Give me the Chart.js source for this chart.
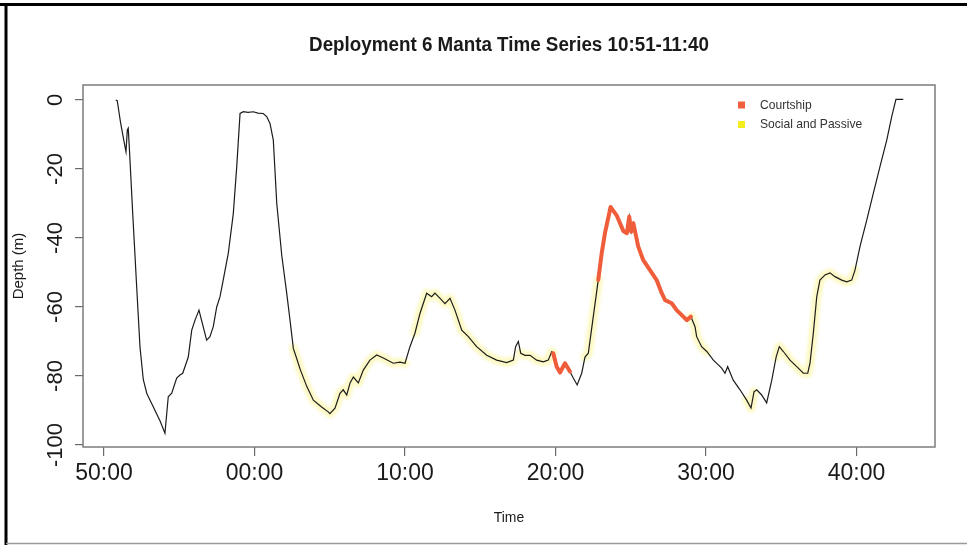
<!DOCTYPE html>
<html>
<head>
<meta charset="utf-8">
<script src="https://cdn.jsdelivr.net/npm/chart.js@4.4.1/dist/chart.umd.min.js"></script>
<style>
  html, body { margin: 0; padding: 0; background: #fff; }
  #wrap { position: relative; width: 967px; height: 545px; }
</style>
</head>
<body>
<div id="wrap"><canvas id="chart"></canvas></div>
<script>
// Deployment 6 - depth trace, minutes after 10:50
const times = [
    0.78, 0.88, 1.11, 1.33, 1.46, 1.55, 1.61, 1.68, 1.91, 2.17,
    2.39, 2.61, 2.84, 3.06, 3.28, 3.50, 3.72, 4.05, 4.27, 4.50,
    4.83, 5.05, 5.23, 5.38, 5.60, 5.83, 6.05, 6.31, 6.53, 6.82,
    7.04, 7.26, 7.49, 7.71, 7.93, 8.26, 8.59, 8.82, 9.04, 9.26,
    9.57, 9.92, 10.23, 10.58, 10.81, 11.03, 11.25, 11.48, 11.81, 12.14,
    12.36, 12.58, 12.81, 13.03, 13.47, 13.91, 14.46, 14.90, 15.01, 15.35,
    15.68, 15.90, 16.13, 16.35, 16.57, 16.90, 17.23, 17.67, 18.12, 18.56,
    19.22, 19.67, 20.00, 20.33, 20.66, 21.00, 21.44, 21.77, 21.99, 22.33,
    22.66, 22.99, 23.32, 23.77, 24.21, 24.76, 25.43, 26.09, 26.76, 27.20,
    27.35, 27.53, 27.69, 27.97, 28.31, 28.75, 29.19, 29.52, 29.75, 29.85,
    30.08, 30.30, 30.63, 30.96, 31.18, 31.44, 31.74, 31.96, 32.18, 32.51,
    32.84, 33.07, 33.29, 33.66, 34.07, 34.51, 34.74, 34.90, 35.03, 35.17,
    35.50, 35.83, 36.28, 36.72, 37.06, 37.28, 37.72, 38.05, 38.49, 38.72,
    39.00, 39.27, 39.38, 39.71, 40.05, 40.49, 41.04, 41.26, 41.44, 41.81,
    42.26, 42.70, 42.99, 43.19, 43.37, 43.70, 44.03, 44.37, 44.66, 44.87,
    45.14, 45.58, 46.03, 46.47, 46.76, 46.91, 47.13, 47.36, 47.57, 47.91,
    48.24, 48.57, 49.02, 49.35, 49.68, 49.90, 50.23, 50.68, 51.12, 51.56,
    52.01, 52.34, 52.62, 53.11
];

const depths = [
    0, -0.2, -6.8, -12, -15, -8.7, -8.2, -13.5, -33, -54,
    -71.5, -81, -85, -87, -89, -91, -93, -96.6, -86, -85,
    -80.6, -79.7, -79.2, -77.3, -74.5, -66.7, -63.8, -60.9, -64.7, -69.6,
    -68.6, -65.7, -60, -57, -52, -44.4, -33, -19.3, -3.9, -3.4,
    -3.6, -3.4, -3.8, -3.9, -4.8, -6.8, -11.6, -30, -45, -56,
    -63.8, -72, -75, -78, -83, -87, -89, -90.4, -90.9, -89.3,
    -85, -84, -85.5, -82, -80.3, -82, -78.3, -75.4, -73.9, -74.8,
    -76.3, -76, -76.3, -71.5, -67.6, -61.8, -56, -57, -56, -57.5,
    -59, -57.5, -60.9, -66.7, -68.6, -71.5, -74, -75.4, -76.1, -75.4,
    -71.5, -70, -73.4, -74, -74, -75.4, -75.9, -75.4, -73, -73.4,
    -77.3, -79, -76.3, -78.7, -80.6, -82.6, -79.2, -74.5, -73.4, -62.8,
    -52.2, -44.4, -38.5, -31, -33.5, -38, -38.6, -33.8, -38.2, -35.7,
    -42.5, -46.4, -49.3, -52.2, -56, -58, -58.9, -60.9, -62.8, -63.8,
    -62.8, -65.7, -68.6, -71.5, -72.9, -75.4, -77.7, -79.2, -77.3, -81.2,
    -84, -87, -89.3, -84.6, -84, -85.5, -87.8, -81.2, -74.5, -71.5,
    -72.9, -75.4, -77.3, -79.2, -79.2, -76.3, -67.6, -57, -52.2, -50.7,
    -50.1, -51.2, -52.2, -52.7, -52.2, -49.3, -42.5, -34.8, -27, -19.3,
    -11.6, -4.8, 0.2, 0.2
];

// behaviour windows, [start, end] in minutes
const courtshipWindows = [[29.85, 30.96], [32.84, 39.00]];
const socialWindows = [[12.58, 20.00], [20.66, 27.20], [27.69, 29.85], [31.96, 32.84],
    [39.00, 40.05], [42.70, 43.19], [44.66, 49.90]];

const xTickValues = [0, 10, 20, 30, 40, 50];
const xTickLabels = ['50:00', '00:00', '10:00', '20:00', '30:00', '40:00'];
const yTickValues = [0, -20, -40, -60, -80, -100];

const legendItems = [
    { label: 'Courtship', color: '#f0603e' },
    { label: 'Social and Passive', color: '#f4ef1c' }
];

const FONT = "'Liberation Sans', Arial, Helvetica, sans-serif";

function inWindows(t, windows) {
    return windows.some(w => t >= w[0] - 1e-9 && t <= w[1] + 1e-9);
}

const allPoints = times.map((t, i) => ({ x: t, y: depths[i] }));
const courtshipPoints = times.map((t, i) => ({ x: t, y: inWindows(t, courtshipWindows) ? depths[i] : null }));
const socialPoints = times.map((t, i) => ({ x: t, y: inWindows(t, socialWindows) ? depths[i] : null }));

// soft glow for the social/passive highlight
const glowPlugin = {
    id: 'glow',
    beforeDatasetDraw(chart, args) {
        if (chart.data.datasets[args.index].label !== 'Social and Passive') return;
        chart.ctx.save();
        chart.ctx.filter = 'blur(1.5px)';
    },
    afterDatasetDraw(chart, args) {
        if (chart.data.datasets[args.index].label !== 'Social and Passive') return;
        chart.ctx.restore();
    }
};

// draws frame, box, titles, rotated y labels and legend
const decorPlugin = {
    id: 'decor',
    beforeDraw(chart) {
        const ctx = chart.ctx;
        ctx.save();
        ctx.fillStyle = '#fff';
        ctx.fillRect(0, 0, chart.width, chart.height);
        ctx.restore();
    },
    afterDraw(chart) {
        const { ctx, chartArea: a, scales } = chart;
        const y = scales.y;
        ctx.save();

        // outer frame
        ctx.strokeStyle = '#000';
        ctx.lineWidth = 3;
        ctx.beginPath();
        ctx.moveTo(0, 4.5); ctx.lineTo(chart.width, 4.5);
        ctx.moveTo(6, 3); ctx.lineTo(6, chart.height);
        ctx.stroke();
        ctx.strokeStyle = '#9a9a9a';
        ctx.lineWidth = 1.5;
        ctx.beginPath();
        ctx.moveTo(6, 543.5); ctx.lineTo(chart.width, 543.5);
        ctx.stroke();

        // plot box
        ctx.strokeStyle = '#7c7c7c';
        ctx.lineWidth = 1.5;
        ctx.strokeRect(a.left, a.top, a.right - a.left, a.bottom - a.top);

        ctx.fillStyle = '#1a1a1a';

        // title
        const cx = (a.left + a.right) / 2;
        ctx.save();
        ctx.translate(cx, 45);
        ctx.scale(0.94, 1);
        ctx.font = 'bold 20px ' + FONT;
        ctx.textAlign = 'center';
        ctx.textBaseline = 'middle';
        ctx.fillText('Deployment 6 Manta Time Series 10:51-11:40', 0, 0);
        ctx.restore();

        // y tick labels (rotated, R style)
        ctx.font = '22px ' + FONT;
        ctx.textAlign = 'center';
        ctx.textBaseline = 'alphabetic';
        yTickValues.forEach(v => {
            const py = y.getPixelForValue(v);
            ctx.save();
            ctx.translate(62, py);
            ctx.rotate(-Math.PI / 2);
            ctx.fillText(String(v), 0, 0);
            ctx.restore();
        });

        // axis titles
        ctx.font = '15px ' + FONT;
        ctx.save();
        ctx.translate(23, (a.top + a.bottom) / 2);
        ctx.rotate(-Math.PI / 2);
        ctx.textAlign = 'center';
        ctx.fillText('Depth (m)', 0, 0);
        ctx.restore();

        ctx.save();
        ctx.translate(cx, 518);
        ctx.scale(0.93, 1);
        ctx.textAlign = 'center';
        ctx.textBaseline = 'middle';
        ctx.fillText('Time', 0, 0);
        ctx.restore();

        // legend
        legendItems.forEach((item, i) => {
            const ly = 105 + i * 19.5;
            ctx.fillStyle = item.color;
            ctx.fillRect(738, ly - 3.5, 7, 7);
            ctx.save();
            ctx.translate(760, ly);
            ctx.scale(0.93, 1);
            ctx.fillStyle = '#333';
            ctx.font = '13px ' + FONT;
            ctx.textAlign = 'left';
            ctx.textBaseline = 'middle';
            ctx.fillText(item.label, 0, 0);
            ctx.restore();
        });

        ctx.restore();
    }
};

new Chart(document.getElementById('chart'), {
    type: 'line',
    data: {
        datasets: [
            {
                label: 'Courtship',
                data: courtshipPoints,
                borderColor: '#ef5d3b',
                borderWidth: 4,
                borderCapStyle: 'round',
                borderJoinStyle: 'round',
                pointRadius: 0,
                spanGaps: false,
                order: 1
            },
            {
                label: 'Depth',
                data: allPoints,
                borderColor: '#1c1c1c',
                borderWidth: 1.2,
                pointRadius: 0,
                order: 2
            },
            {
                label: 'Social and Passive',
                data: socialPoints,
                borderColor: 'rgba(246, 238, 80, 0.33)',
                borderWidth: 9,
                borderCapStyle: 'round',
                borderJoinStyle: 'round',
                pointRadius: 0,
                spanGaps: false,
                order: 3
            }
        ]
    },
    options: {
        responsive: true,
        maintainAspectRatio: false,
        animation: false,
        layout: { padding: { top: 85, right: 32, bottom: 0, left: 0 } },
        plugins: {
            legend: { display: false },
            title: { display: false },
            tooltip: { enabled: false }
        },
        scales: {
            x: {
                type: 'linear',
                min: -1.395,
                max: 55.216,
                afterBuildTicks: s => { s.ticks = xTickValues.map(v => ({ value: v })); },
                afterFit: s => { s.height = 98; },
                border: { display: false },
                grid: { drawOnChartArea: false, drawTicks: true, tickLength: 9, color: '#6a6a6a', lineWidth: 1.2 },
                ticks: {
                    autoSkip: false,
                    maxRotation: 0,
                    padding: 4,
                    color: '#1a1a1a',
                    font: { family: FONT, size: 23 },
                    callback: v => xTickLabels[xTickValues.indexOf(v)]
                }
            },
            y: {
                min: -100.58,
                max: 4.35,
                afterBuildTicks: s => { s.ticks = yTickValues.map(v => ({ value: v })); },
                afterFit: s => { s.width = 83; },
                border: { display: false },
                grid: { drawOnChartArea: false, drawTicks: true, tickLength: 8, color: '#6a6a6a', lineWidth: 1.2 },
                ticks: { display: false }
            }
        }
    },
    plugins: [glowPlugin, decorPlugin]
});
</script>
</body>
</html>
